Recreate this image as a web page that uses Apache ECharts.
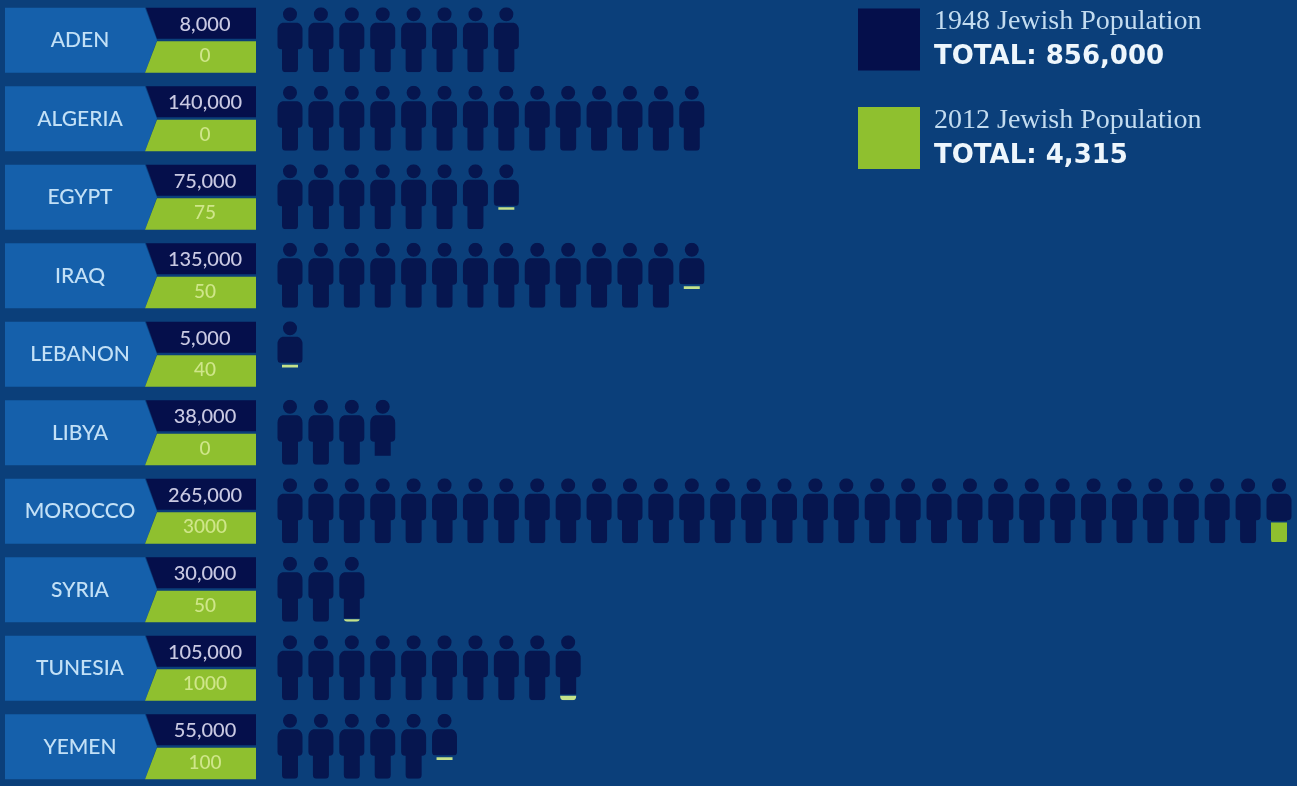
<!DOCTYPE html>
<html>
<head>
<meta charset="utf-8">
<title>Jewish population in Arab countries</title>
<script src="https://cdn.jsdelivr.net/npm/echarts@6/dist/echarts.min.js"></script>
<style>
  html, body { margin: 0; padding: 0; background: #0b3f7a; }
  #chart { width: 1297px; height: 786px; }
</style>
</head>
<body>
<div id="chart"></div>
<script>
// values as printed in the picture
const countries = ['ADEN', 'ALGERIA', 'EGYPT', 'IRAQ', 'LEBANON', 'LIBYA', 'MOROCCO', 'SYRIA', 'TUNESIA', 'YEMEN'];
const pop1948 = ['8,000', '140,000', '75,000', '135,000', '5,000', '38,000', '265,000', '30,000', '105,000', '55,000'];
const pop2012 = ['0', '0', '75', '50', '40', '0', '3000', '50', '1000', '100'];
const total1948 = '856,000';
const total2012 = '4,315';

// number of figures in each row, read by counting them
const figureCounts = [8, 14, 8, 14, 1, 4, 33, 3, 10, 6];
// how far down the last figure is dark, as a share of its height
const lastFigureCut = [1, 1, 0.64, 0.64, 0.64, 0.86, 0.66, 0.95, 0.91, 0.64];
// green band on the last figure, top and bottom share of its height
const greenTop = [0, 0, 0.66, 0.67, 0.67, 0, 0.68, 0.96, 0.93, 0.67];
const greenBottom = [0, 0, 0.7, 0.71, 0.71, 0, 0.98, 1, 1, 0.71];

const DARK = '#050f4b';
const FIGURE = '#06164f';
const GREEN = '#8fc02f';
const GREEN_THIN = '#c4e28a';
const TAB_BLUE = '#1560ab';
const FIG_W = 25;
const FIG_H = 65;
const FIG_TOP = -33;

const PERSON = 'M5.5 7A7 7 0 1 1 19.5 7A7 7 0 1 1 5.5 7Z' +
  'M5 15.5L20 15.5Q25 17 25 23L25 38Q25 42 21 42L20.5 42L20.5 61Q20.5 65 17 65L8 65Q4.5 65 4.5 61L4.5 42L4 42Q0 42 0 38L0 23Q0 17 5 15.5Z';

// one data row per figure: [slot, row, cut]
const darkFigures = [];
const greenFigures = [];
countries.forEach((c, i) => {
  for (let j = 0; j < figureCounts[i]; j++) {
    const last = j === figureCounts[i] - 1;
    darkFigures.push([j, i, last ? lastFigureCut[i] : 1]);
  }
  if (greenBottom[i] > 0) {
    greenFigures.push([figureCounts[i] - 1, i, greenTop[i], greenBottom[i]]);
  }
});
const rowIndexes = countries.map((c, i) => [0, i]);

function figure(api, from, to, color) {
  const p = api.coord([api.value(0), api.value(1)]);
  const x = p[0] - FIG_W / 2;
  const y = p[1] + FIG_TOP;
  return {
    type: 'path',
    shape: { pathData: PERSON, x: x, y: y, width: FIG_W, height: FIG_H, layout: 'cover' },
    style: { fill: color },
    clipPath: { type: 'rect', shape: { x: x - 1, y: y + from * FIG_H, width: FIG_W + 2, height: (to - from) * FIG_H } }
  };
}

function polygon(cy, pts, color) {
  return {
    type: 'polygon',
    shape: { points: pts.map(q => [q[0], cy + q[1]]) },
    style: { fill: color }
  };
}

function label(x, y, text, font, color) {
  return {
    type: 'text',
    style: { x: x, y: y, text: text, font: font, fill: color, textAlign: 'center', textVerticalAlign: 'middle' }
  };
}

const chart = echarts.init(document.getElementById('chart'));
chart.setOption({
  animation: false,
  backgroundColor: '#0b3f7a',
  grid: { left: 290, right: 18, top: 1, height: 785 },
  xAxis: { type: 'value', min: 0, max: 32, show: false },
  yAxis: { type: 'category', data: countries, inverse: true, show: false },
  legend: {
    left: 858,
    top: 2,
    padding: 0,
    orient: 'vertical',
    icon: 'rect',
    itemWidth: 62,
    itemHeight: 62,
    itemGap: 30,
    selectedMode: false,
    data: ['1948 Jewish Population', '2012 Jewish Population'],
    formatter: name => {
      const total = name.indexOf('1948') === 0 ? total1948 : total2012;
      return '{a|' + name + '}\n{b|TOTAL: ' + total + '}';
    },
    textStyle: {
      rich: {
        a: { fontFamily: 'Liberation Serif', fontSize: 28, color: '#c3dcf0', lineHeight: 36, padding: [6, 0, 0, 9] },
        b: { fontFamily: 'DejaVu Sans', fontWeight: 'bold', fontSize: 26, color: '#eef6fc', lineHeight: 41, padding: [0, 0, 0, 9] }
      }
    }
  },
  series: [
    {
      name: 'tabs',
      type: 'custom',
      silent: true,
      data: rowIndexes,
      renderItem: (params, api) => {
        const i = api.value(1);
        const cy = api.coord([0, i])[1];
        return {
          type: 'group',
          children: [
            polygon(cy, [[5, -32.5], [145, -32.5], [157, 0], [145, 32.5], [5, 32.5]], TAB_BLUE),
            label(80, cy, countries[i], '500 21px Lato', '#c2e0f6')
          ]
        };
      }
    },
    {
      name: 'plates',
      type: 'custom',
      silent: true,
      data: rowIndexes,
      renderItem: (params, api) => {
        const i = api.value(1);
        const cy = api.coord([0, i])[1];
        return {
          type: 'group',
          children: [
            polygon(cy, [[146, -32.5], [256, -32.5], [256, -1.5], [157, -1.5]], DARK),
            polygon(cy, [[157, 1], [256, 1], [256, 32.5], [145, 32.5]], GREEN),
            label(205, cy - 16, pop1948[i], '500 20px Lato', '#c9c9e2'),
            label(205, cy + 16, pop2012[i], '500 19px Lato', '#cfe68a')
          ]
        };
      }
    },
    {
      name: '1948 Jewish Population',
      type: 'custom',
      silent: true,
      itemStyle: { color: DARK },
      data: darkFigures,
      encode: { x: 0, y: 1 },
      renderItem: (params, api) => figure(api, 0, api.value(2), FIGURE)
    },
    {
      name: '2012 Jewish Population',
      type: 'custom',
      silent: true,
      itemStyle: { color: GREEN },
      data: greenFigures,
      encode: { x: 0, y: 1 },
      renderItem: (params, api) => {
        const from = api.value(2);
        const to = api.value(3);
        return figure(api, from, to, to - from < 0.1 ? GREEN_THIN : GREEN);
      }
    }
  ]
});
</script>
</body>
</html>
